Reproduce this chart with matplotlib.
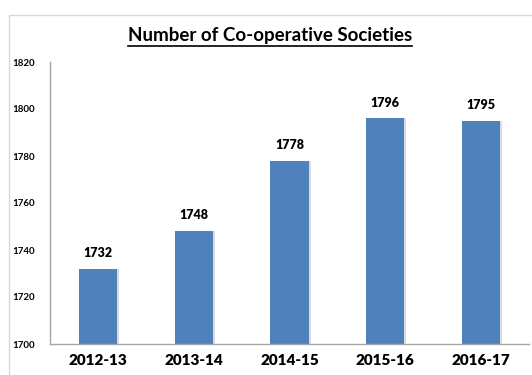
import matplotlib.pyplot as plt
from matplotlib.patches import Rectangle
from matplotlib.lines import Line2D

years = ['2012-13', '2013-14', '2014-15', '2015-16', '2016-17']
societies = [1732, 1748, 1778, 1796, 1795]
y_ticks = [1700, 1720, 1740, 1760, 1780, 1800, 1820]

plt.rcParams['font.family'] = ['Lato', 'DejaVu Sans']

fig = plt.figure(figsize=(5.32, 3.75), dpi=100)

# light frame around the chart area
fig.patches.append(Rectangle((9 / 532, -0.01), 1.0, 1 - 15 / 375 + 0.01,
                             transform=fig.transFigure, fill=False,
                             edgecolor='#d9d9d9', linewidth=1.0))

ax = fig.add_axes([50 / 532, 31 / 375, 479 / 532, 282 / 375])

x = range(len(years))
# soft shadow to the right of each bar
ax.bar([i + 0.02 for i in x], [v - 1700 for v in societies], bottom=1700,
       width=0.4, color='#dcdcdc', zorder=1)
bars = ax.bar(x, [v - 1700 for v in societies], bottom=1700, width=0.4,
              color='#4f81bd', zorder=2)

for i, v in zip(x, societies):
    ax.annotate(str(v), (i, v), xytext=(0, 7), textcoords='offset points',
                ha='center', va='bottom', fontsize=9, fontweight='heavy')

ax.set_xlim(-0.5, len(years) - 0.5)
ax.set_ylim(1700, 1820)
ax.set_yticks(y_ticks)
ax.set_yticklabels([str(t) for t in y_ticks], fontsize=7, fontweight='bold')
ax.set_xticks(list(x))
ax.set_xticklabels(years, fontsize=11, fontweight='heavy')
ax.tick_params(axis='both', length=0)
ax.tick_params(axis='y', pad=11)
ax.tick_params(axis='x', pad=7)

for side in ['top', 'right']:
    ax.spines[side].set_visible(False)
for side in ['left', 'bottom']:
    ax.spines[side].set_color('#a6a6a6')
    ax.spines[side].set_linewidth(1.0)

title = fig.text(270 / 532, 1 - 36 / 375, 'Number of Co-operative Societies',
                 ha='center', va='center', fontsize=13.5, fontweight='bold')

# underline the title
fig.canvas.draw()
bb = title.get_window_extent().transformed(fig.transFigure.inverted())
fig.add_artist(Line2D([bb.x0, bb.x1], [bb.y0 - 0.004, bb.y0 - 0.004],
                      transform=fig.transFigure, color='black', linewidth=1.2))

fig.savefig('out.png', dpi=100)
